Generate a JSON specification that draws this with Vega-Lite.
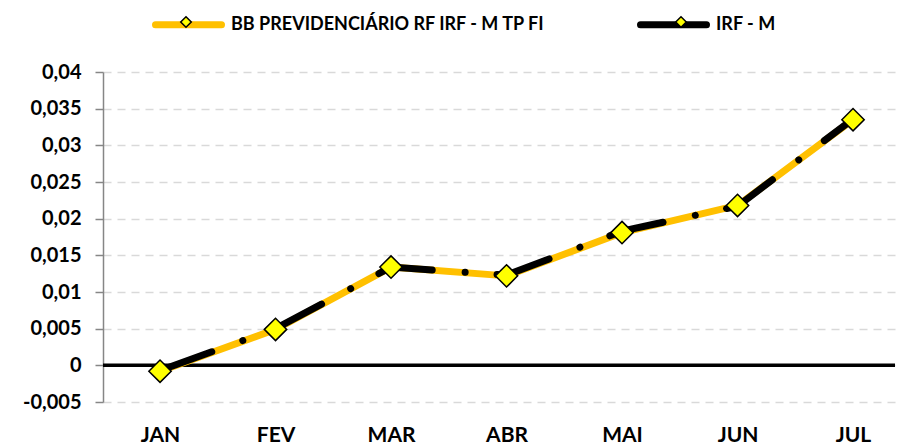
{
  "$schema": "https://vega.github.io/schema/vega-lite/v6.json",
  "width": 792,
  "height": 330,
  "autosize": "none",
  "padding": {"left": 103, "top": 72, "right": 6, "bottom": 45},
  "background": "white",
  "config": {"view": {"stroke": null}, "font": "Lato"},
  "data": {
    "values": [
      {"mes": "JAN", "serie": "BB PREVIDENCIÁRIO RF IRF - M TP FI", "marcador": "BB PREVIDENCIÁRIO RF IRF - M TP FI", "valor": -0.0008},
      {"mes": "FEV", "serie": "BB PREVIDENCIÁRIO RF IRF - M TP FI", "marcador": "BB PREVIDENCIÁRIO RF IRF - M TP FI", "valor": 0.0049},
      {"mes": "MAR", "serie": "BB PREVIDENCIÁRIO RF IRF - M TP FI", "marcador": "BB PREVIDENCIÁRIO RF IRF - M TP FI", "valor": 0.0134},
      {"mes": "ABR", "serie": "BB PREVIDENCIÁRIO RF IRF - M TP FI", "marcador": "BB PREVIDENCIÁRIO RF IRF - M TP FI", "valor": 0.0122},
      {"mes": "MAI", "serie": "BB PREVIDENCIÁRIO RF IRF - M TP FI", "marcador": "BB PREVIDENCIÁRIO RF IRF - M TP FI", "valor": 0.0181},
      {"mes": "JUN", "serie": "BB PREVIDENCIÁRIO RF IRF - M TP FI", "marcador": "BB PREVIDENCIÁRIO RF IRF - M TP FI", "valor": 0.0218},
      {"mes": "JUL", "serie": "BB PREVIDENCIÁRIO RF IRF - M TP FI", "marcador": "BB PREVIDENCIÁRIO RF IRF - M TP FI", "valor": 0.0335},
      {"mes": "JAN", "serie": "IRF - M", "marcador": "IRF - M", "valor": -0.0007},
      {"mes": "FEV", "serie": "IRF - M", "marcador": "IRF - M", "valor": 0.005},
      {"mes": "MAR", "serie": "IRF - M", "marcador": "IRF - M", "valor": 0.0134},
      {"mes": "ABR", "serie": "IRF - M", "marcador": "IRF - M", "valor": 0.0123},
      {"mes": "MAI", "serie": "IRF - M", "marcador": "IRF - M", "valor": 0.0183},
      {"mes": "JUN", "serie": "IRF - M", "marcador": "IRF - M", "valor": 0.0217},
      {"mes": "JUL", "serie": "IRF - M", "marcador": "IRF - M", "valor": 0.0336}
    ]
  },
  "layer": [
    {
      "mark": {"type": "line", "stroke": "transparent", "strokeWidth": 0},
      "encoding": {
        "x": {
          "field": "mes", "type": "ordinal",
          "sort": ["JAN", "FEV", "MAR", "ABR", "MAI", "JUN", "JUL"],
          "scale": {"type": "point", "padding": 0.4286, "align": 0.576},
          "axis": {"title": null, "domain": false, "ticks": false, "grid": false, "labelAngle": 0, "labelPadding": 22, "labelFont": "Lato", "labelFontWeight": "bold", "labelFontSize": 21, "labelColor": "#000000"}
        },
        "y": {
          "field": "valor", "type": "quantitative",
          "scale": {"domain": [-0.005, 0.04], "nice": false, "zero": false},
          "axis": {
            "title": null,
            "tickCount": 9,
            "labelExpr": "replace(replace(format(datum.value, '.3~f'), '.', ','), '\u2212', '-')",
            "labelOverlap": false,
            "labelFlush": false,
            "domainColor": "#868686", "domainWidth": 1.5,
            "tickColor": "#868686", "tickWidth": 1.5, "tickSize": 8,
            "labelPadding": 14, "labelFont": "Lato", "labelFontWeight": "bold", "labelFontSize": 20, "labelColor": "#000000",
            "grid": true, "gridColor": "#d9d9d9", "gridDash": [8, 6], "gridWidth": 1.5
          }
        },
        "detail": {"field": "serie", "type": "nominal"}
      }
    },
    {
      "data": {"values": [{"zero": 0}]},
      "mark": {"type": "rule", "stroke": "#000000", "strokeWidth": 3.5},
      "encoding": {"y": {"field": "zero", "type": "quantitative"}}
    },
    {
      "transform": [{"filter": "datum.serie == 'BB PREVIDENCIÁRIO RF IRF - M TP FI'"}],
      "mark": {"type": "line", "strokeWidth": 7, "strokeJoin": "round", "strokeCap": "round"},
      "encoding": {
        "x": {"field": "mes", "type": "ordinal", "sort": ["JAN", "FEV", "MAR", "ABR", "MAI", "JUN", "JUL"]},
        "y": {"field": "valor", "type": "quantitative"},
        "stroke": {
          "field": "serie", "type": "nominal",
          "scale": {"range": ["#FFC000", "#000000"]},
          "legend": {
            "title": null, "orient": "none", "legendX": 49, "legendY": -84, "direction": "horizontal",
            "symbolType": "M-1,0H1", "symbolSize": 4356, "symbolStrokeWidth": 7, "symbolDash": [1, 0],
            "labelFont": "Lato", "labelFontWeight": "bold", "labelFontSize": 18, "labelColor": "#000000", "labelLimit": 500,
            "labelOffset": 6, "columnPadding": 80, "padding": 0,
            "encode": {"symbols": {"update": {"strokeCap": {"value": "round"}}}}
          }
        }
      }
    },
    {
      "transform": [{"filter": "datum.serie == 'IRF - M'"}],
      "mark": {"type": "line", "strokeWidth": 7, "strokeCap": "round", "strokeDash": [55, 33, 0.01, 32]},
      "encoding": {
        "x": {"field": "mes", "type": "ordinal", "sort": ["JAN", "FEV", "MAR", "ABR", "MAI", "JUN", "JUL"]},
        "y": {"field": "valor", "type": "quantitative"},
        "stroke": {"field": "serie", "type": "nominal"}
      }
    },
    {
      "transform": [{"filter": "datum.serie == 'IRF - M'"}],
      "mark": {"type": "point", "shape": "diamond", "filled": true, "opacity": 1, "size": 100, "stroke": "#000000", "strokeWidth": 1},
      "encoding": {
        "x": {"field": "mes", "type": "ordinal", "sort": ["JAN", "FEV", "MAR", "ABR", "MAI", "JUN", "JUL"]},
        "y": {"field": "valor", "type": "quantitative"},
        "fill": {
          "field": "marcador", "type": "nominal",
          "scale": {"range": ["#FFFF00", "#FFFF00"]},
          "legend": {
            "title": null, "orient": "none", "legendX": 49, "legendY": -84, "direction": "horizontal",
            "symbolType": "M0,-0.16L0.16,0L0,0.16L-0.16,0Z", "symbolSize": 4356,
            "symbolStrokeColor": "#000000", "symbolStrokeWidth": 1.5, "symbolOpacity": 1,
            "labelExpr": "''",
            "labelFont": "Lato", "labelFontWeight": "bold", "labelFontSize": 18, "labelColor": "#000000",
            "labelOffset": 6, "columnPadding": 421, "padding": 0
          }
        }
      }
    },
    {
      "transform": [{"filter": "datum.serie == 'BB PREVIDENCIÁRIO RF IRF - M TP FI'"}],
      "mark": {"type": "point", "shape": "diamond", "filled": true, "opacity": 1, "size": 500, "stroke": "#000000", "strokeWidth": 1.5},
      "encoding": {
        "x": {"field": "mes", "type": "ordinal", "sort": ["JAN", "FEV", "MAR", "ABR", "MAI", "JUN", "JUL"]},
        "y": {"field": "valor", "type": "quantitative"},
        "fill": {"field": "marcador", "type": "nominal"}
      }
    }
  ]
}
